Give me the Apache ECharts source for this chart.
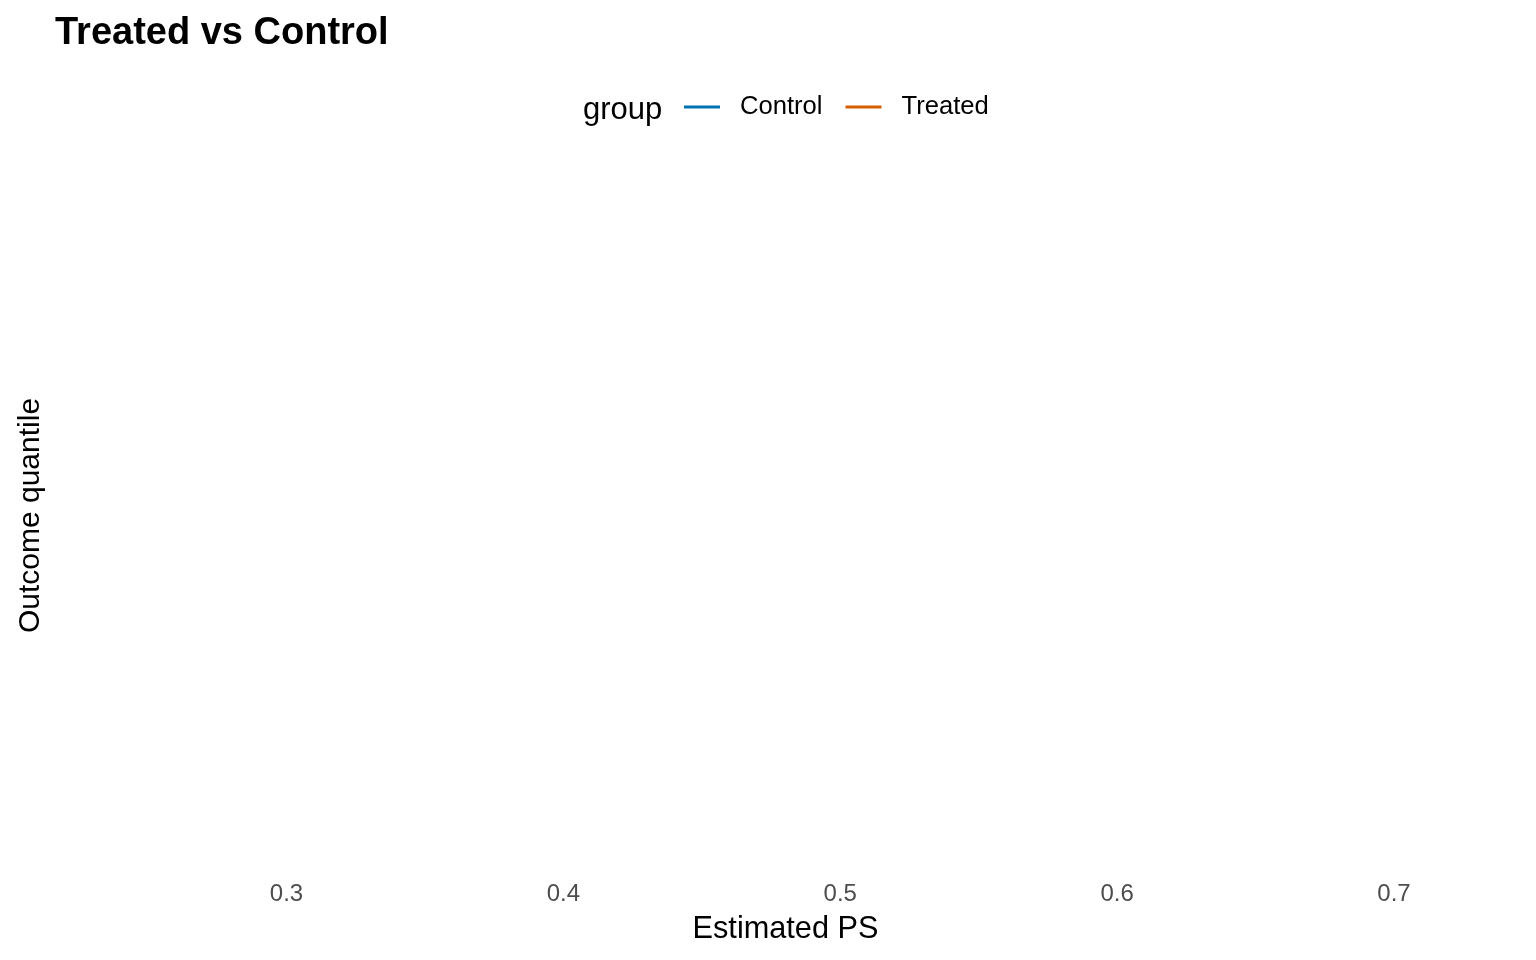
<!DOCTYPE html>
<html>
<head>
<meta charset="utf-8">
<script src="https://cdn.jsdelivr.net/npm/echarts@6/dist/echarts.min.js"></script>
<style>
html,body{margin:0;padding:0;background:#fff;}
#chart{width:1536px;height:960px;}
</style>
</head>
<body>
<div id="chart"></div>
<script>
// Data (the reference panel shows no plotted marks)
const groups = ['Control', 'Treated'];
const controlData = [];
const treatedData = [];
const xTicks = [0.3, 0.4, 0.5, 0.6, 0.7];
const xMin = 0.21386;
const xMax = 0.74659;

const chart = echarts.init(document.getElementById('chart'));
const font = 'Liberation Sans, Arial, sans-serif';
chart.setOption({
  backgroundColor: '#ffffff',
  animation: false,
  title: {
    text: 'Treated vs Control',
    left: 55,
    top: 15,
    padding: 0,
    textStyle: {fontFamily: font, fontSize: 38, fontWeight: 'bold', color: '#000'}
  },
  graphic: [{
    type: 'text',
    left: 583,
    top: 95,
    style: {text: 'group', font: '31px ' + font, fill: '#000'}
  }],
  legend: {
    data: groups,
    left: 684,
    top: 94,
    padding: 0,
    icon: 'rect',
    itemWidth: 36,
    itemHeight: 3,
    itemGap: 23,
    textStyle: {fontFamily: font, fontSize: 25.6, color: '#000', padding: [2, 0, 0, 15]}
  },
  grid: {left: 48, right: 13, top: 151, bottom: 80, containLabel: false},
  xAxis: {
    type: 'value',
    min: xMin,
    max: xMax,
    name: 'Estimated PS',
    nameLocation: 'middle',
    nameGap: 34,
    nameTextStyle: {fontFamily: font, fontSize: 30.7, color: '#000'},
    axisLine: {show: false},
    axisTick: {show: false},
    splitLine: {show: false},
    axisLabel: {
      customValues: xTicks,
      margin: 2,
      fontFamily: font,
      fontSize: 24,
      color: '#4d4d4d',
      formatter: v => v.toFixed(1)
    }
  },
  yAxis: {
    type: 'value',
    min: 0,
    max: 1,
    name: 'Outcome quantile',
    nameLocation: 'middle',
    nameGap: 2,
    nameTextStyle: {fontFamily: font, fontSize: 30, color: '#000'},
    axisLine: {show: false},
    axisTick: {show: false},
    axisLabel: {show: false},
    splitLine: {show: false}
  },
  series: [
    {name: 'Control', type: 'line', data: controlData, showSymbol: false, color: '#0072B2', lineStyle: {color: '#0072B2', width: 3}},
    {name: 'Treated', type: 'line', data: treatedData, showSymbol: false, color: '#D55E00', lineStyle: {color: '#D55E00', width: 3}}
  ]
});
</script>
</body>
</html>
